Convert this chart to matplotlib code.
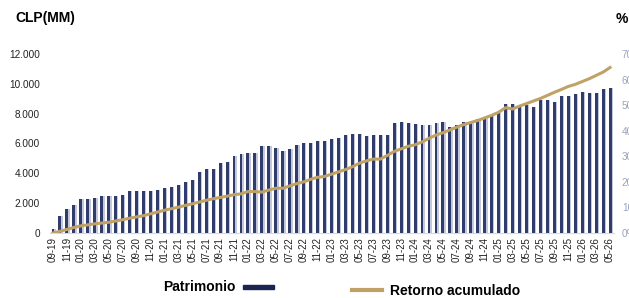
import numpy as np
import matplotlib.pyplot as plt
from matplotlib.lines import Line2D
from matplotlib.patches import Rectangle

plt.rcParams['font.family'] = ['Liberation Sans', 'DejaVu Sans']

# monthly data, 09-19 .. 05-26
months = []
for y in range(2019, 2027):
    for m in range(1, 13):
        if (y == 2019 and m < 9) or (y == 2026 and m > 5):
            continue
        months.append('%02d-%02d' % (m, y % 100))

patrimonio = [250, 1145, 1600, 1890, 2270, 2290, 2380, 2490, 2490, 2470,
              2520, 2810, 2810, 2830, 2850, 2880, 3010, 3080, 3215, 3390,
              3550, 4090, 4310, 4310, 4700, 4790, 5170, 5280, 5330, 5330,
              5800, 5840, 5710, 5530, 5600, 5910, 6050, 6050, 6180, 6180,
              6270, 6340, 6590, 6630, 6650, 6490, 6590, 6540, 6590, 7395,
              7440, 7350, 7300, 7260, 7260, 7350, 7460, 7125, 7210, 7440,
              7350, 7620, 7730, 7890, 8070, 8630, 8650, 8520, 8560, 8470,
              8920, 8900, 8810, 9190, 9210, 9300, 9420, 9350, 9390, 9620,
              9750]

retorno = [0.0, 0.7, 1.4, 2.2, 2.8, 3.2, 3.6, 3.9, 4.2, 4.7,
           5.2, 5.8, 6.3, 6.8, 7.5, 8.2, 8.9, 9.5, 10.1, 10.8,
           11.4, 12.1, 12.8, 13.4, 13.9, 14.4, 15.0, 15.3, 16.2, 16.2,
           16.0, 16.8, 17.5, 17.5, 18.4, 19.3, 20.0, 21.0, 21.8, 22.1,
           23.0, 23.9, 24.8, 25.9, 27.3, 28.2, 28.9, 28.9, 30.3, 31.9,
           32.9, 33.9, 34.5, 35.6, 37.0, 38.3, 39.2, 40.3, 41.4, 42.4,
           43.2, 44.0, 45.0, 46.0, 47.2, 49.0, 48.5, 49.6, 50.6, 51.6,
           52.6, 53.8, 55.0, 56.1, 57.3, 58.1, 59.2, 60.3, 61.6, 62.9,
           64.7]

left_ticks = [0, 2000, 4000, 6000, 8000, 10000, 12000]
left_labels = ['0', '2.000', '4.000', '6.000', '8.000', '10.000', '12.000']
right_ticks = [0, 10, 20, 30, 40, 50, 60, 70]
right_labels = ['0%', '10%', '20%', '30%', '40%', '50%', '60%', '70%']

navy = '#2f3c6c'
gold = '#c1a266'

fig = plt.figure(figsize=(6.29, 2.98), dpi=100)
ax = fig.add_axes([0.0787, 0.218, 0.8967, 0.601])
x = np.arange(len(months))

# light edge behind each bar
ax.bar(x + 0.18, patrimonio, width=0.45, color='#c3c8dc', zorder=2)
ax.bar(x, patrimonio, width=0.42, color=navy, zorder=3)

ax.set_xlim(-0.5, len(months) - 0.5)
ax.set_ylim(0, 12000)
ax.set_yticks(left_ticks)
ax.set_yticklabels(left_labels, fontsize=7.2, color='#222222')
ax.tick_params(axis='y', length=0, pad=7)
ax.set_xticks(x[::2])
ax.set_xticklabels(months[::2], rotation=90, fontsize=7, color='#222222')
ax.tick_params(axis='x', length=0, pad=3)
for s in ['top', 'right', 'left']:
    ax.spines[s].set_visible(False)
ax.spines['bottom'].set_color('#d9d9d9')

ax2 = ax.twinx()
ax2.plot(x, retorno, color=gold, lw=2.2, zorder=4)
ax2.set_ylim(0, 70)
ax2.set_yticks(right_ticks)
ax2.set_yticklabels(right_labels, fontsize=7.2, color='#9aa2bf')
ax2.tick_params(axis='y', length=0, pad=6)
for s in ['top', 'right', 'left', 'bottom']:
    ax2.spines[s].set_visible(False)

fig.text(0.024, 0.94, 'CLP(MM)', fontsize=10, fontweight='bold', va='center')
fig.text(0.978, 0.935, '%', fontsize=10, fontweight='bold', va='center')

# legend drawn by hand
fig.text(0.259, 0.037, 'Patrimonio', fontsize=10, fontweight='bold', va='center')
fig.add_artist(Rectangle((0.386, 0.030), 0.050, 0.014, transform=fig.transFigure,
                         color='#1c2452'))
fig.add_artist(Line2D([0.56, 0.607], [0.027, 0.027], transform=fig.transFigure,
                      color=gold, lw=3))
fig.text(0.62, 0.022, 'Retorno acumulado', fontsize=10, fontweight='bold', va='center')

fig.savefig('out.png', dpi=100)
